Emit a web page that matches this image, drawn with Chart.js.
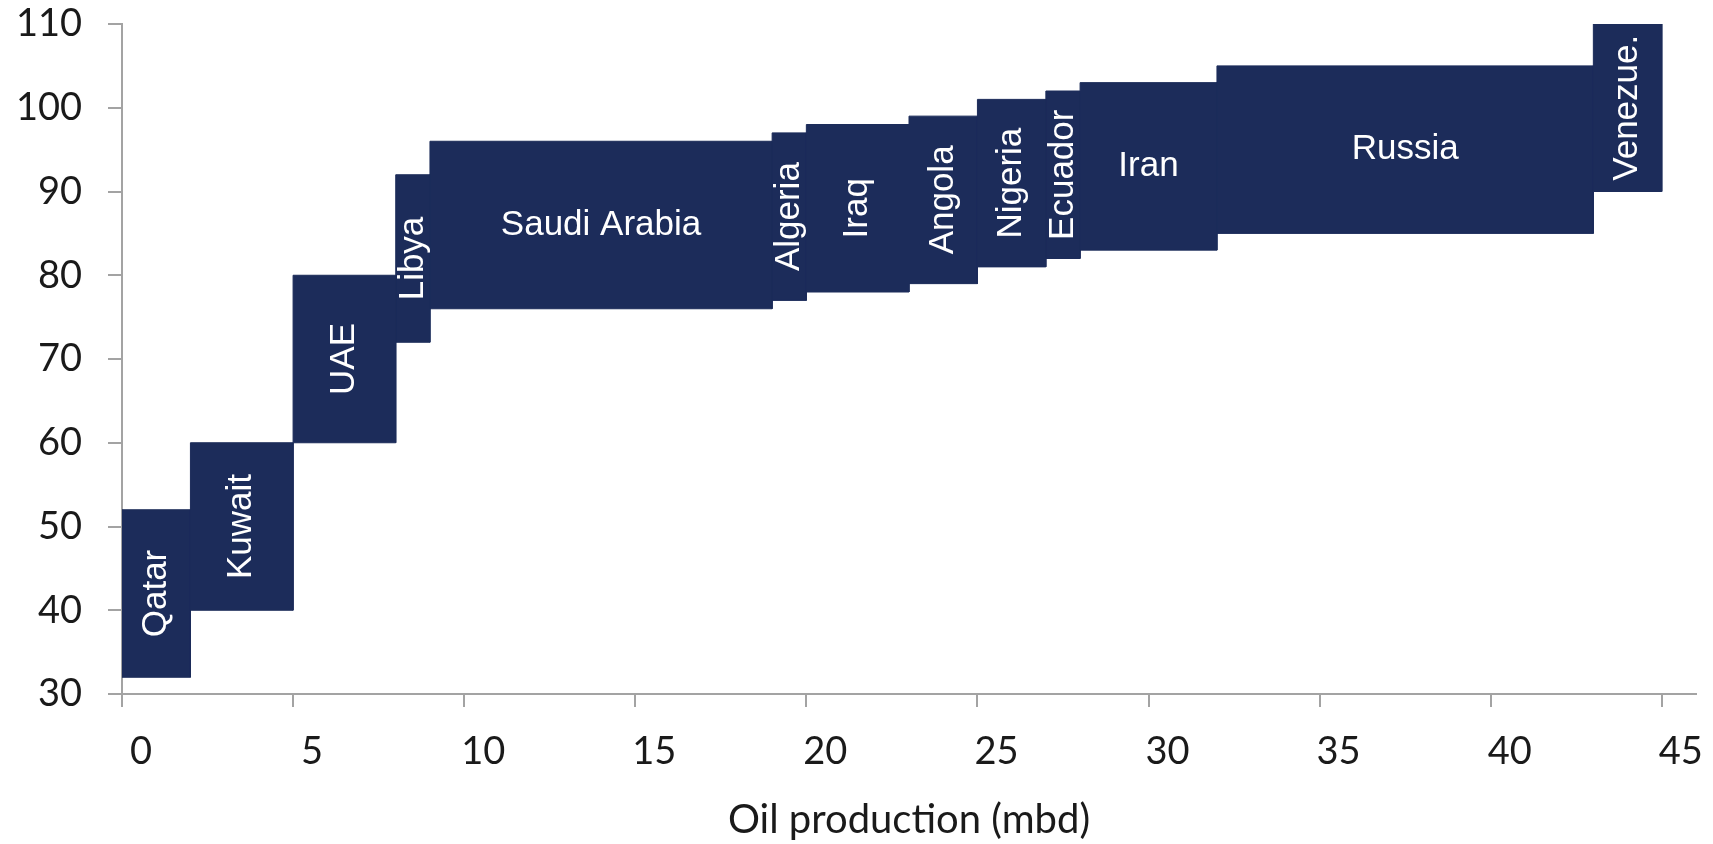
<!DOCTYPE html>
<html>
<head>
<meta charset="utf-8">
<script src="https://cdn.jsdelivr.net/npm/chart.js@4/dist/chart.umd.min.js"></script>
<style>
  html, body { margin: 0; padding: 0; background: #ffffff; }
  canvas { display: block; }
</style>
</head>
<body>
<canvas id="chart" width="1713" height="844"></canvas>
<script>
// Producers, ordered along the cumulative production axis
const countries = ['Qatar', 'Kuwait', 'UAE', 'Libya', 'Saudi Arabia', 'Algeria', 'Iraq',
                   'Angola', 'Nigeria', 'Ecuador', 'Iran', 'Russia', 'Venezue.'];
// Oil production of each producer (mbd) -> box width
const production = [2, 3, 3, 1, 10, 1, 3, 2, 2, 1, 4, 11, 2];
// Price range of each producer -> box bottom / top
const rangeLow  = [32, 40, 60, 72, 76, 77, 78, 79, 81, 82, 83, 85, 90];
const rangeHigh = [52, 60, 80, 92, 96, 97, 98, 99, 101, 102, 103, 105, 110];
// Axis ticks
const xTicks = [0, 5, 10, 15, 20, 25, 30, 35, 40, 45];
const yTicks = [30, 40, 50, 60, 70, 80, 90, 100, 110];

const NAVY = '#1c2c5a';
const AXIS_GREY = '#a3a3a3';
const TEXT = '#1a1a1a';

// left edge of every box = cumulative production before it
const starts = [];
let acc = 0;
production.forEach(p => { starts.push(acc); acc += p; });

const datasets = countries.map((name, i) => {
  const x0 = starts[i];
  const x1 = starts[i] + production[i];
  return {
    label: name,
    data: [
      { x: x0, y: rangeLow[i] },
      { x: x0, y: rangeHigh[i] },
      { x: x1, y: rangeHigh[i] },
      { x: x1, y: rangeLow[i] },
      { x: x0, y: rangeLow[i] }
    ],
    showLine: true,
    fill: 'shape',
    backgroundColor: NAVY,
    borderColor: NAVY,
    borderWidth: 1,
    pointRadius: 0,
    pointHoverRadius: 0,
    tension: 0
  };
});

// country names written inside their boxes
const boxLabels = {
  id: 'boxLabels',
  afterDatasetsDraw(chart) {
    const { ctx, scales: { x, y } } = chart;
    ctx.save();
    ctx.fillStyle = '#ffffff';
    ctx.font = '35px "Liberation Sans", Arial, sans-serif';
    ctx.textAlign = 'center';
    ctx.textBaseline = 'middle';
    countries.forEach((name, i) => {
      const cx = x.getPixelForValue(starts[i] + production[i] / 2);
      const cy = y.getPixelForValue((rangeLow[i] + rangeHigh[i]) / 2);
      ctx.save();
      ctx.translate(cx, cy);
      if (production[i] < 4) ctx.rotate(-Math.PI / 2);
      ctx.fillText(name, 0, 0);
      ctx.restore();
    });
    ctx.restore();
  }
};

new Chart(document.getElementById('chart'), {
  type: 'scatter',
  data: { datasets },
  plugins: [boxLabels],
  options: {
    responsive: false,
    animation: false,
    layout: { padding: { left: 0, top: 24, right: 17, bottom: 0 } },
    plugins: {
      legend: { display: false },
      tooltip: { enabled: false }
    },
    scales: {
      x: {
        type: 'linear',
        min: 0,
        max: 46,
        afterBuildTicks: s => { s.ticks = xTicks.map(v => ({ value: v })); },
        afterFit: s => {
          s.height = 150;
          s.paddingLeft = 0;
          s.paddingRight = 0;
        },
        ticks: {
          includeBounds: false,
          labelOffset: 19,
          padding: 22,
          color: TEXT,
          font: { family: 'Lato', size: 38 }
        },
        grid: {
          drawOnChartArea: false,
          drawTicks: true,
          tickLength: 13,
          color: AXIS_GREY,
          lineWidth: 2
        },
        border: { display: true, color: AXIS_GREY, width: 2 },
        title: {
          display: true,
          text: 'Oil production (mbd)',
          color: TEXT,
          font: { family: 'Lato', size: 40 },
          padding: { top: 0, bottom: 0 }
        }
      },
      y: {
        type: 'linear',
        min: 30,
        max: 110,
        afterBuildTicks: s => { s.ticks = yTicks.map(v => ({ value: v })); },
        afterFit: s => {
          s.width = 122;
          s.paddingTop = 0;
          s.paddingBottom = 0;
        },
        ticks: {
          padding: 26,
          color: TEXT,
          font: { family: 'Lato', size: 38 }
        },
        grid: {
          drawOnChartArea: false,
          drawTicks: true,
          tickLength: 14,
          color: AXIS_GREY,
          lineWidth: 2
        },
        border: { display: true, color: AXIS_GREY, width: 2 }
      }
    }
  }
});
</script>
</body>
</html>
